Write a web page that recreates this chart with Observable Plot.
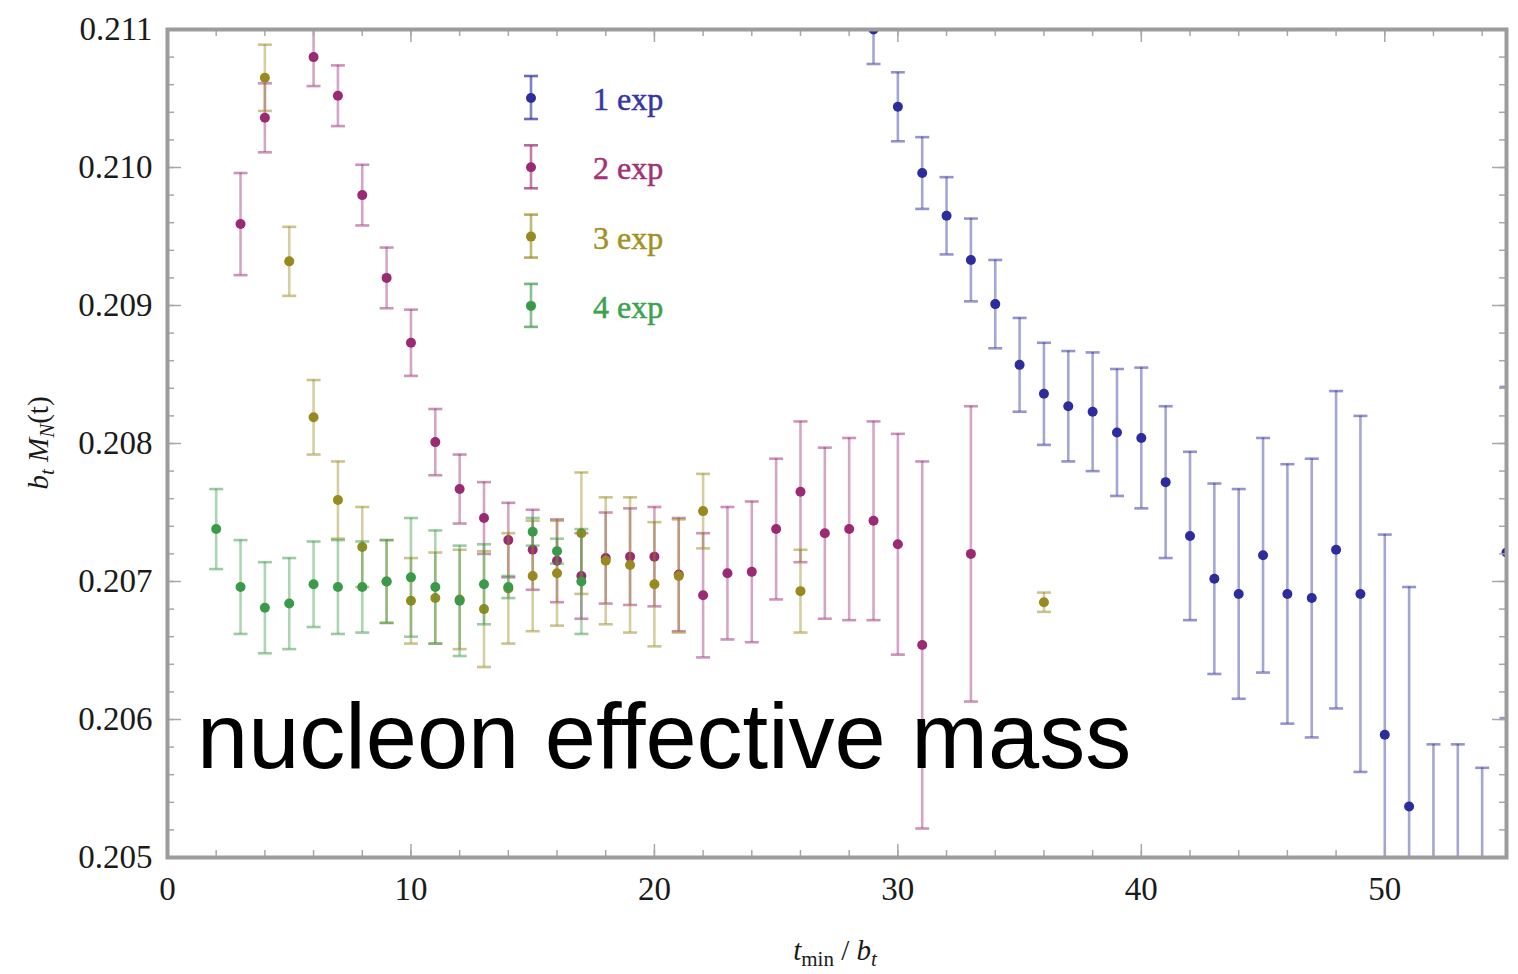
<!DOCTYPE html>
<html><head><meta charset="utf-8">
<script src="https://cdn.jsdelivr.net/npm/d3@7"></script>
<script src="https://cdn.jsdelivr.net/npm/@observablehq/plot@0.6"></script>
<style>body{margin:0;background:#fff}#chart{position:relative;width:1518px;height:974px}</style>
</head><body><div id="chart"></div>
<script>
const seriesNames = ["1 exp", "2 exp", "3 exp", "4 exp"];
const dotColors = ["#2c2c9c", "#9a2a72", "#988a20", "#3a9a4a"];
const textColors = ["#3636a4", "#a23272", "#a29222", "#3ca250"];

const t1 = [29,30,31,32,33,34,35,36,37,38,39,40,41,42,43,44,45,46,47,48,49,50,51,52,53,54,55];
const m1 = [0.21100,0.21044,0.20996,0.20965,0.20933,0.20901,0.20857,0.20836,0.20827,0.20823,0.20808,0.20804,0.20772,0.20733,0.20702,0.20691,0.20719,0.20691,0.20688,0.20723,0.20691,0.20589,0.20537,0.20407,0.20405,0.20375,0.20721];
const e1 = [0.00025,0.00025,0.00026,0.00028,0.00030,0.00032,0.00034,0.00037,0.00040,0.00043,0.00046,0.00051,0.00055,0.00061,0.00069,0.00076,0.00085,0.00094,0.00101,0.00115,0.00129,0.00145,0.00159,0.00175,0.00177,0.00190,0.00120];

const t2 = [3,4,5,6,7,8,9,10,11,12,13,14,15,16,17,18,19,20,21,22,23,24,25,26,27,28,29,30,31,33];
const m2 = [0.20959,0.21036,0.21120,0.21080,0.21052,0.20980,0.20920,0.20873,0.20801,0.20767,0.20746,0.20730,0.20723,0.20715,0.20704,0.20717,0.20718,0.20718,0.20705,0.20690,0.20706,0.20707,0.20738,0.20765,0.20735,0.20738,0.20744,0.20727,0.20654,0.20720];
const e2 = [0.00037,0.00025,0.00020,0.00021,0.00022,0.00022,0.00022,0.00024,0.00024,0.00025,0.00026,0.00027,0.00029,0.00030,0.00031,0.00033,0.00035,0.00036,0.00041,0.00045,0.00048,0.00051,0.00051,0.00051,0.00062,0.00066,0.00072,0.00080,0.00133,0.00107];

const t3 = [4,5,6,7,8,9,10,11,12,13,14,15,16,17,18,19,20,21,22,26,36];
const m3 = [0.21065,0.20932,0.20819,0.20759,0.20725,0.20700,0.20686,0.20688,0.20687,0.20680,0.20695,0.20704,0.20706,0.20735,0.20715,0.20712,0.20698,0.20704,0.20751,0.20693,0.20685];
const e3 = [0.00024,0.00025,0.00027,0.00028,0.00029,0.00030,0.00031,0.00033,0.00036,0.00042,0.00040,0.00040,0.00038,0.00044,0.00046,0.00049,0.00045,0.00041,0.00027,0.00030,0.00007];

const t4 = [2,3,4,5,6,7,8,9,10,11,12,13,14,15,16,17];
const m4 = [0.20738,0.20696,0.20681,0.20684,0.20698,0.20696,0.20696,0.20700,0.20703,0.20696,0.20686,0.20698,0.20696,0.20736,0.20722,0.20700];
const e4 = [0.00029,0.00034,0.00033,0.00033,0.00031,0.00034,0.00033,0.00030,0.00043,0.00041,0.00040,0.00029,0.00008,0.00010,0.00009,0.00038];

const xTickLabels = [0, 10, 20, 30, 40, 50];
const yTickLabels = [0.205, 0.206, 0.207, 0.208, 0.209, 0.210, 0.211];
const xMinorTicks = d3.range(0, 55, 2);
const yMinorTicks = d3.range(0, 31).map(i => +(0.205 + i * 0.0002).toFixed(4));

const seriesT = [t1, t2, t3, t4], seriesM = [m1, m2, m3, m4], seriesE = [e1, e2, e3, e4];
const rows = seriesNames.map((name, s) => seriesT[s].map((t, i) => ({series: name, s, t, m: seriesM[s][i], e: seriesE[s][i]})));

const W = 1518, H = 974, mL = 167, mR = 12, mT = 29, mB = 117;
const innerW = W - mL - mR, innerH = H - mT - mB;

const capSymbol = {draw(ctx, size) { const r = Math.sqrt(size / Math.PI); ctx.moveTo(-r, 0); ctx.lineTo(r, 0); }};

const marks = [];
rows.forEach((data, s) => {
  const c = dotColors[s];
  marks.push(Plot.ruleX(data, {x: "t", y1: d => d.m - d.e, y2: d => d.m + d.e, stroke: c, strokeOpacity: 0.42, strokeWidth: 2.6, clip: true}));
  marks.push(Plot.dot(data, {x: "t", y: d => d.m - d.e, symbol: capSymbol, r: 7, stroke: c, strokeOpacity: 0.5, strokeWidth: 2.6, clip: true}));
  marks.push(Plot.dot(data, {x: "t", y: d => d.m + d.e, symbol: capSymbol, r: 7, stroke: c, strokeOpacity: 0.5, strokeWidth: 2.6, clip: true}));
  marks.push(Plot.dot(data, {x: "t", y: "m", r: 5, fill: c, stroke: "none", clip: true}));
});
const tickStroke = "#a8a8a8";
marks.push(
  Plot.ruleX(xMinorTicks, {x: d => d, insetTop: innerH - 7, stroke: tickStroke, strokeWidth: 1.5}),
  Plot.ruleX(xMinorTicks, {x: d => d, insetBottom: innerH - 7, stroke: tickStroke, strokeWidth: 1.5}),
  Plot.ruleX(xTickLabels, {x: d => d, insetTop: innerH - 13, stroke: tickStroke, strokeWidth: 1.5}),
  Plot.ruleX(xTickLabels, {x: d => d, insetBottom: innerH - 13, stroke: tickStroke, strokeWidth: 1.5}),
  Plot.ruleY(yMinorTicks, {y: d => d, insetRight: innerW - 7, stroke: tickStroke, strokeWidth: 1.5}),
  Plot.ruleY(yMinorTicks, {y: d => d, insetLeft: innerW - 7, stroke: tickStroke, strokeWidth: 1.5}),
  Plot.ruleY(yTickLabels, {y: d => d, insetRight: innerW - 14, stroke: tickStroke, strokeWidth: 1.5}),
  Plot.ruleY(yTickLabels, {y: d => d, insetLeft: innerW - 14, stroke: tickStroke, strokeWidth: 1.5}),
  Plot.frame({stroke: "#9c9c9c", strokeWidth: 4}),
  Plot.axisX({ticks: xTickLabels, tickSize: 0, tickPadding: 19, label: null, fontSize: 33, fill: "#1a1a1a", stroke: "#1a1a1a", strokeWidth: 0.6}),
  Plot.axisY({ticks: yTickLabels, tickSize: 0, tickPadding: 15, label: null, fontSize: 33, fill: "#1a1a1a", stroke: "#1a1a1a", strokeWidth: 0.6, tickFormat: d3.format(".3f")})
);

const plot = Plot.plot({
  width: W, height: H,
  marginLeft: mL, marginRight: mR, marginTop: mT, marginBottom: mB,
  x: {domain: [0, 55]},
  y: {domain: [0.205, 0.211]},
  style: {fontFamily: "'Liberation Serif', 'Times New Roman', serif", fontSize: "30px", background: "#fff"},
  marks
});
document.getElementById("chart").appendChild(plot);

const svg = d3.select(plot);
// legend
const lg = svg.append("g").attr("class", "legend").attr("text-anchor", "start");
seriesNames.forEach((name, i) => {
  const c = dotColors[i];
  const g = lg.append("g").attr("transform", `translate(531,${98 + i * 69.3})`);
  g.append("line").attr("x1", 0).attr("x2", 0).attr("y1", -22).attr("y2", 21).attr("stroke", c).attr("stroke-opacity", 0.6).attr("stroke-width", 2.6);
  g.append("line").attr("x1", -7).attr("x2", 7).attr("y1", -22).attr("y2", -22).attr("stroke", c).attr("stroke-opacity", 0.7).attr("stroke-width", 2.6);
  g.append("line").attr("x1", -7).attr("x2", 7).attr("y1", 21).attr("y2", 21).attr("stroke", c).attr("stroke-opacity", 0.7).attr("stroke-width", 2.6);
  g.append("circle").attr("r", 5).attr("fill", c);
  g.append("text").attr("x", 62).attr("y", 12).attr("fill", textColors[i]).attr("text-anchor", "start")
    .attr("stroke", textColors[i]).attr("stroke-width", 0.5)
    .attr("font-family", "'Liberation Serif', serif").attr("font-size", 32).text(name);
});
// x title
const xt = svg.append("text").attr("x", 835).attr("y", 960).attr("text-anchor", "middle")
  .attr("font-family", "'Liberation Serif', serif").attr("font-size", 29).attr("fill", "#1a1a1a");
xt.append("tspan").attr("font-style", "italic").text("t");
xt.append("tspan").attr("font-size", 21).attr("dy", 6).text("min");
xt.append("tspan").attr("dy", -6).text(" / ");
xt.append("tspan").attr("font-style", "italic").text("b");
xt.append("tspan").attr("font-style", "italic").attr("font-size", 21).attr("dy", 6).text("t");
// y title
const yt = svg.append("text").attr("transform", "translate(48,443) rotate(-90)").attr("text-anchor", "middle")
  .attr("font-family", "'Liberation Serif', serif").attr("font-size", 29).attr("fill", "#1a1a1a");
yt.append("tspan").attr("font-style", "italic").text("b");
yt.append("tspan").attr("font-style", "italic").attr("font-size", 21).attr("dy", 6).text("t");
yt.append("tspan").attr("font-style", "italic").attr("dy", -6).text(" M");
yt.append("tspan").attr("font-style", "italic").attr("font-size", 21).attr("dy", 6).text("N");
yt.append("tspan").attr("dy", -6).text("(t)");
// overlay caption
svg.append("text").attr("x", 197).attr("y", 768).attr("text-anchor", "start")
  .attr("font-family", "'Liberation Sans', Arial, sans-serif").attr("font-size", 92).attr("fill", "#000")
  .text("nucleon effective mass");
</script></body></html>
